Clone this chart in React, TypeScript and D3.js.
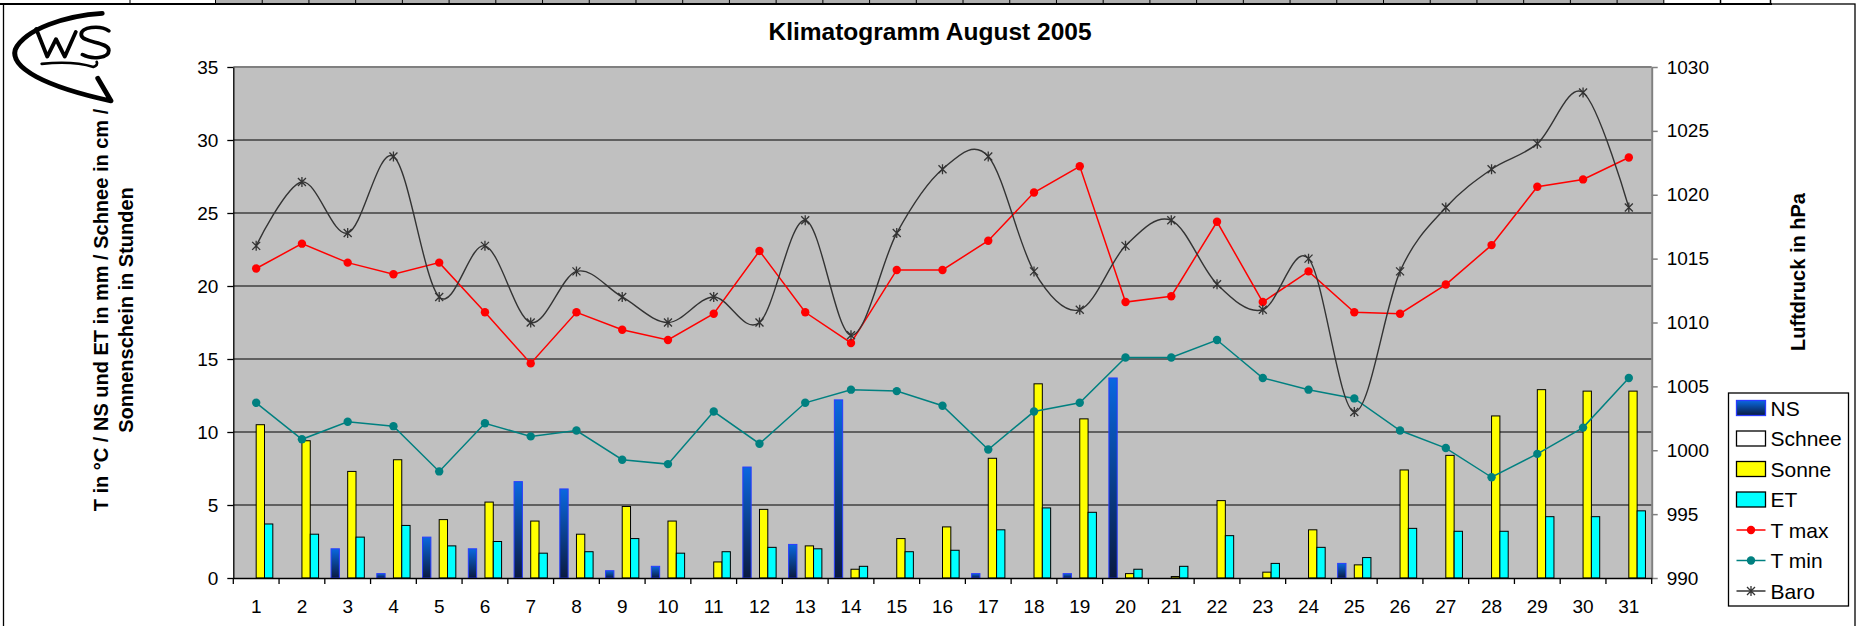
import React, { useEffect, useRef } from 'react'
import * as d3 from 'd3'

// --- data ---
const days = ['1', '2', '3', '4', '5', '6', '7', '8', '9', '10', '11', '12', '13', '14', '15', '16',
  '17', '18', '19', '20', '21', '22', '23', '24', '25', '26', '27', '28', '29', '30', '31']

const ns = [0, 0, 2.0, 0.3, 2.8, 2.0, 6.6, 6.1, 0.5, 0.8, 0, 7.6, 2.3, 12.2, 0, 0,
  0.3, 0, 0.3, 13.7, 0, 0, 0, 0, 1.0, 0, 0, 0, 0, 0, 0]
const schnee = [0, 0, 0, 0, 0, 0, 0, 0, 0, 0, 0, 0, 0, 0, 0, 0,
  0, 0, 0, 0, 0, 0, 0, 0, 0, 0, 0, 0, 0, 0, 0]
const sonne = [10.5, 9.4, 7.3, 8.1, 4.0, 5.2, 3.9, 3.0, 4.9, 3.9, 1.1, 4.7, 2.2, 0.6, 2.7, 3.5,
  8.2, 13.3, 10.9, 0.3, 0.1, 5.3, 0.4, 3.3, 0.9, 7.4, 8.4, 11.1, 12.9, 12.8, 12.8]
const et = [3.7, 3.0, 2.8, 3.6, 2.2, 2.5, 1.7, 1.8, 2.7, 1.7, 1.8, 2.1, 2.0, 0.8, 1.8, 1.9,
  3.3, 4.8, 4.5, 0.6, 0.8, 2.9, 1.0, 2.1, 1.4, 3.4, 3.2, 3.2, 4.2, 4.2, 4.6]
const tMax = [21.2, 22.9, 21.6, 20.8, 21.6, 18.2, 14.7, 18.2, 17.0, 16.3, 18.1, 22.4, 18.2, 16.1, 21.1, 21.1,
  23.1, 26.4, 28.2, 18.9, 19.3, 24.4, 18.9, 21.0, 18.2, 18.1, 20.1, 22.8, 26.8, 27.3, 28.8]
const tMin = [12.0, 9.5, 10.7, 10.4, 7.3, 10.6, 9.7, 10.1, 8.1, 7.8, 11.4, 9.2, 12.0, 12.9, 12.8, 11.8,
  8.8, 11.4, 12.0, 15.1, 15.1, 16.3, 13.7, 12.9, 12.3, 10.1, 8.9, 6.9, 8.5, 10.3, 13.7]
const baro = [1016, 1021, 1017, 1023, 1012, 1016, 1010, 1014, 1012, 1010, 1012, 1010, 1018, 1009, 1017, 1022,
  1023, 1014, 1011, 1016, 1018, 1013, 1011, 1015, 1003, 1014, 1019, 1022, 1024, 1028, 1019]

const leftTicks = [0, 5, 10, 15, 20, 25, 30, 35]
const rightTicks = [990, 995, 1000, 1005, 1010, 1015, 1020, 1025, 1030]

const title = 'Klimatogramm August 2005'
const leftTitle = ['T in °C / NS und ET in mm / Schnee in cm /', 'Sonnenschein in Stunden']
const rightTitle = 'Luftdruck in hPa'

const W = 1861
const H = 626
const font = "'Liberation Sans', Arial, sans-serif"
const plot = { left: 233.3, right: 1651.7, top: 67, bottom: 578 }

const App = () => {
  const ref = useRef(null)

  useEffect(() => {
    const svg = d3.select(ref.current)
    svg.selectAll('*').remove()

    const x = d3.scaleBand().domain(days).range([plot.left, plot.right]).padding(0)
    const bw = x.bandwidth()
    const barNames = ['NS', 'Schnee', 'Sonne', 'ET']
    // excel gap width 150% -> 0.75 bar width on each side
    const xSub = d3.scaleBand().domain(barNames).range([0, bw]).paddingInner(0).paddingOuter(0.75)
    const yLeft = d3.scaleLinear().domain([0, 35]).range([plot.bottom, plot.top])
    const yRight = d3.scaleLinear().domain([990, 1030]).range([plot.bottom, plot.top])
    const cx = (i) => x(days[i]) + bw / 2

    const defs = svg.append('defs')
    const grad = defs.append('linearGradient').attr('id', 'nsGrad')
      .attr('x1', 0).attr('y1', 0).attr('x2', 0).attr('y2', 1)
    grad.append('stop').attr('offset', '0%').attr('stop-color', '#0a68e0')
    grad.append('stop').attr('offset', '100%').attr('stop-color', '#0a1a40')

    svg.append('rect').attr('width', W).attr('height', H).attr('fill', '#fff')

    // spreadsheet strip on top + chart frame
    svg.append('rect').attr('x', 215.5).attr('y', 0).attr('width', 1448.5).attr('height', 3.5).attr('fill', '#b0b0b0')
    d3.range(0, 32).forEach((k) => {
      svg.append('line').attr('x1', 215.5 + k * 46.72).attr('x2', 215.5 + k * 46.72)
        .attr('y1', 0).attr('y2', 4).attr('stroke', '#000').attr('stroke-width', 1)
    })
    svg.append('line').attr('x1', 130).attr('x2', 130).attr('y1', 0).attr('y2', 4).attr('stroke', '#000')
    svg.append('rect').attr('x', 1720.5).attr('y', -1).attr('width', 50).attr('height', 5)
      .attr('fill', 'none').attr('stroke', '#000').attr('stroke-width', 1.5)
    svg.append('rect').attr('x', 0).attr('y', 3).attr('width', 1772).attr('height', 2).attr('fill', '#000')
    svg.append('rect').attr('x', 3.5).attr('y', 4).attr('width', 1851.5).attr('height', 700)
      .attr('fill', 'none').attr('stroke', '#000').attr('stroke-width', 1.3)

    // logo
    const logo = svg.append('g').attr('fill', 'none').attr('stroke', '#000')
      .attr('stroke-linecap', 'round').attr('stroke-linejoin', 'round')
      .attr('transform', 'translate(1,0) scale(1.1,1.03)')
    logo.append('path').attr('stroke-width', 4.5)
      .attr('d', 'M 92 13 C 60 15, 22 28, 13 48 C 8 66, 40 84, 100 98 L 88 76')
    logo.append('path').attr('stroke-width', 3.5)
      .attr('d', 'M 32 28 L 42 55 L 50 38 L 58 55 L 68 31')
    logo.append('path').attr('stroke-width', 3.5)
      .attr('d', 'M 98 30 C 90 24, 72 26, 73 34 C 74 42, 98 40, 98 49 C 98 57, 82 58, 74 53')
    logo.append('path').attr('stroke-width', 2.5)
      .attr('d', 'M 37 62 C 55 60, 72 61, 84 65 C 87 64, 88 62, 87 60')

    // plot area
    svg.append('rect')
      .attr('x', plot.left).attr('y', plot.top)
      .attr('width', plot.right - plot.left).attr('height', plot.bottom - plot.top)
      .attr('fill', '#c0c0c0')

    svg.append('g').selectAll('line').data(leftTicks.filter((t) => t > 0 && t < 35)).join('line')
      .attr('x1', plot.left).attr('x2', plot.right)
      .attr('y1', (d) => yLeft(d)).attr('y2', (d) => yLeft(d))
      .attr('stroke', '#000').attr('stroke-width', 1.2)

    svg.append('line').attr('x1', plot.left).attr('x2', plot.right)
      .attr('y1', plot.top).attr('y2', plot.top).attr('stroke', '#808080').attr('stroke-width', 2)

    // bars
    const barSeries = [
      { key: 'NS', values: ns, fill: 'url(#nsGrad)', stroke: '#2a3cff' },
      { key: 'Schnee', values: schnee, fill: '#ffffff', stroke: '#000' },
      { key: 'Sonne', values: sonne, fill: '#ffff00', stroke: '#000' },
      { key: 'ET', values: et, fill: '#00ffff', stroke: '#000' },
    ]
    barSeries.forEach((s) => {
      svg.append('g').selectAll('rect')
        .data(s.values.map((v, i) => ({ v, i })).filter((d) => d.v > 0))
        .join('rect')
        .attr('x', (d) => x(days[d.i]) + xSub(s.key))
        .attr('y', (d) => yLeft(d.v))
        .attr('width', xSub.bandwidth())
        .attr('height', (d) => plot.bottom - yLeft(d.v))
        .attr('fill', s.fill)
        .attr('stroke', s.stroke)
        .attr('stroke-width', 1)
    })

    // lines
    const lineLeft = d3.line().x((d, i) => cx(i)).y((d) => yLeft(d))
    const addLine = (values, color) => {
      svg.append('path').attr('d', lineLeft(values)).attr('fill', 'none')
        .attr('stroke', color).attr('stroke-width', 1.5)
      svg.append('g').selectAll('circle').data(values).join('circle')
        .attr('cx', (d, i) => cx(i)).attr('cy', (d) => yLeft(d)).attr('r', 4.2)
        .attr('fill', color)
    }
    addLine(tMax, '#ff0000')
    addLine(tMin, '#008080')

    const baroLine = d3.line().x((d, i) => cx(i)).y((d) => yRight(d)).curve(d3.curveCardinal.tension(0))
    svg.append('path').attr('d', baroLine(baro)).attr('fill', 'none')
      .attr('stroke', '#333').attr('stroke-width', 1.4)
    const star = (g, px, py, s) => {
      g.append('path')
        .attr('d', `M${px - s},${py - s}L${px + s},${py + s}M${px - s},${py + s}L${px + s},${py - s}M${px},${py - s - 1}L${px},${py + s + 1}`)
        .attr('stroke', '#333').attr('stroke-width', 1.3).attr('fill', 'none')
    }
    const gStar = svg.append('g')
    baro.forEach((d, i) => star(gStar, cx(i), yRight(d), 4))

    // axes
    const gLeft = svg.append('g').attr('transform', `translate(${plot.left},0)`)
      .call(d3.axisLeft(yLeft).tickValues(leftTicks).tickSize(6).tickSizeOuter(0).tickPadding(9))
    gLeft.attr('font-size', 19).attr('font-family', font)
    gLeft.select('.domain').attr('stroke', '#000').attr('stroke-width', 1.3)
    gLeft.selectAll('.tick line').attr('stroke', '#000').attr('stroke-width', 1.3)
    gLeft.selectAll('.tick text').attr('fill', '#000')

    const gRight = svg.append('g').attr('transform', `translate(${plot.right},0)`)
      .call(d3.axisRight(yRight).tickValues(rightTicks).tickFormat(d3.format('d'))
        .tickSize(6).tickSizeOuter(0).tickPadding(9))
    gRight.attr('font-size', 19).attr('font-family', font)
    gRight.select('.domain').attr('stroke', '#808080').attr('stroke-width', 2)
    gRight.selectAll('.tick line').attr('stroke', '#808080').attr('stroke-width', 1.5)
    gRight.selectAll('.tick text').attr('fill', '#000')

    const gBottom = svg.append('g').attr('transform', `translate(0,${plot.bottom})`)
      .call(d3.axisBottom(x).tickSize(0).tickPadding(22))
    gBottom.attr('font-size', 19).attr('font-family', font)
    gBottom.select('.domain').attr('stroke', '#000').attr('stroke-width', 1.5)
    gBottom.selectAll('.tick text').attr('fill', '#000')
    svg.append('g').selectAll('line').data([...days.map((d) => x(d)), plot.right]).join('line')
      .attr('x1', (d) => d).attr('x2', (d) => d)
      .attr('y1', plot.bottom).attr('y2', plot.bottom + 6)
      .attr('stroke', '#000').attr('stroke-width', 1.3)

    // titles
    svg.append('text').attr('x', 930).attr('y', 40).attr('text-anchor', 'middle')
      .attr('font-family', font).attr('font-weight', 'bold').attr('font-size', 24.5).text(title)

    leftTitle.forEach((t, i) => {
      svg.append('text').attr('transform', `translate(${108 + i * 25},310) rotate(-90)`)
        .attr('text-anchor', 'middle').attr('font-family', font).attr('font-weight', 'bold')
        .attr('font-size', 20).text(t)
    })
    svg.append('text').attr('transform', 'translate(1805,272) rotate(-90)')
      .attr('text-anchor', 'middle').attr('font-family', font).attr('font-weight', 'bold')
      .attr('font-size', 20).text(rightTitle)

    // legend
    const lg = svg.append('g').attr('transform', 'translate(1728.5,393)')
    lg.append('rect').attr('width', 120).attr('height', 213).attr('fill', '#fff')
      .attr('stroke', '#000').attr('stroke-width', 1.3)
    const items = [
      { name: 'NS', type: 'bar', fill: 'url(#nsGrad)', stroke: '#2a3cff' },
      { name: 'Schnee', type: 'bar', fill: '#fff', stroke: '#000' },
      { name: 'Sonne', type: 'bar', fill: '#ffff00', stroke: '#000' },
      { name: 'ET', type: 'bar', fill: '#00ffff', stroke: '#000' },
      { name: 'T max', type: 'dot', color: '#ff0000' },
      { name: 'T min', type: 'dot', color: '#008080' },
      { name: 'Baro', type: 'star', color: '#333' },
    ]
    items.forEach((it, i) => {
      const yy = 15 + i * 30.5
      const g = lg.append('g')
      if (it.type === 'bar') {
        g.append('rect').attr('x', 8).attr('y', yy - 7.5).attr('width', 29).attr('height', 15)
          .attr('fill', it.fill).attr('stroke', it.stroke).attr('stroke-width', 1.3)
      } else {
        g.append('line').attr('x1', 8).attr('x2', 37).attr('y1', yy).attr('y2', yy)
          .attr('stroke', it.color).attr('stroke-width', 1.5)
        if (it.type === 'dot') g.append('circle').attr('cx', 22.5).attr('cy', yy).attr('r', 4.2).attr('fill', it.color)
        else star(g, 22.5, yy, 4)
      }
      g.append('text').attr('x', 42).attr('y', yy).attr('dy', '0.36em')
        .attr('font-family', font).attr('font-size', 21).text(it.name)
    })
  }, [])

  return (
    <svg ref={ref} width={W} height={H} style={{ position: 'absolute', left: 0, top: 0 }} />
  )
}

export default App
